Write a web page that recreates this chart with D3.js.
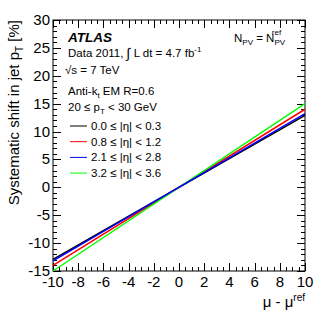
<!DOCTYPE html>
<html>
<head>
<meta charset="utf-8">
<script src="https://cdn.jsdelivr.net/npm/d3@7"></script>
<style>
  body { margin: 0; background: #fff; }
  text { font-family: "Liberation Sans", Arial, sans-serif; fill: #000; }
</style>
</head>
<body>
<div id="chart"></div>
<script>
// data
const xRange = [-10, 10]
const etaBins = ["0.0 ≤ |η| < 0.3", "0.8 ≤ |η| < 1.2", "2.1 ≤ |η| < 2.8", "3.2 ≤ |η| < 3.6"]
const colors = ["#000000", "#ff0000", "#0000ff", "#00ff00"]
const lowEnd = [-12.9, -14.0, -13.2, -15.0]
const highEnd = [12.9, 14.0, 13.2, 15.0]
const xTicks = [-10, -8, -6, -4, -2, 0, 2, 4, 6, 8, 10]
const yTicks = [-15, -10, -5, 0, 5, 10, 15, 20, 25, 30]

const width = 332
const height = 319
const padL = 53, padR = 305, padT = 20, padB = 271

const svg = d3.select("#chart").append("svg")
  .attr("width", width)
  .attr("height", height)

const x = d3.scaleLinear().domain(xRange).range([padL, padR])
const y = d3.scaleLinear().domain([-15, 30]).range([padB, padT])

// frame
svg.append("rect")
  .attr("x", padL).attr("y", padT)
  .attr("width", padR - padL).attr("height", padB - padT)
  .attr("fill", "none").attr("stroke", "#000").attr("stroke-width", 1)

// ticks (ROOT style, inside, mirrored)
const ticks = svg.append("g").attr("stroke", "#000").attr("stroke-width", 1)
d3.range(-10, 10.01, 0.5).forEach(function(v) {
  const major = Math.abs(v % 2) < 1e-6
  const len = major ? 8 : 4
  const px = Math.round(x(v)) + 0.5
  ticks.append("line").attr("x1", px).attr("x2", px).attr("y1", padB).attr("y2", padB - len)
  ticks.append("line").attr("x1", px).attr("x2", px).attr("y1", padT).attr("y2", padT + len)
})
d3.range(-15, 30.01, 1).forEach(function(v) {
  const major = v % 5 === 0
  const len = major ? 8 : 4
  const py = Math.round(y(v)) + 0.5
  ticks.append("line").attr("x1", padL).attr("x2", padL + len).attr("y1", py).attr("y2", py)
  ticks.append("line").attr("x1", padR).attr("x2", padR - len).attr("y1", py).attr("y2", py)
})

// tick labels
svg.append("g").selectAll("text").data(xTicks).enter().append("text")
  .attr("x", d => x(d))
  .attr("y", 287)
  .attr("text-anchor", "middle")
  .attr("font-size", 15)
  .text(d => d)
svg.append("g").selectAll("text").data(yTicks).enter().append("text")
  .attr("x", 50)
  .attr("y", d => y(d) + 5)
  .attr("text-anchor", "end")
  .attr("font-size", 15)
  .text(d => d)

// axis titles
const yt = svg.append("text")
  .attr("transform", "translate(19," + padT + ")rotate(-90)")
  .attr("text-anchor", "end")
  .attr("font-size", 15)
yt.append("tspan").text("Systematic shift in jet p")
yt.append("tspan").attr("font-size", 10).attr("dy", 4).text("T")
yt.append("tspan").attr("dy", -4).text(" [%]")

const xt = svg.append("text")
  .attr("x", padR)
  .attr("y", 307)
  .attr("text-anchor", "end")
  .attr("font-size", 15)
xt.append("tspan").text("μ - μ")
xt.append("tspan").attr("font-size", 10).attr("dy", -6).text("ref")

// lines
svg.append("g").selectAll("line").data([0, 1, 3, 2]).enter().append("line")
  .attr("x1", x(xRange[0]))
  .attr("x2", x(xRange[1]))
  .attr("y1", i => y(lowEnd[i]))
  .attr("y2", i => y(highEnd[i]))
  .attr("stroke", i => colors[i])
  .attr("stroke-width", 1.5)

// annotations
svg.append("text").attr("x", 68).attr("y", 42)
  .attr("font-size", 13.5).attr("font-weight", "bold").attr("font-style", "italic")
  .text("ATLAS")

const d1 = svg.append("text").attr("x", 68).attr("y", 57).attr("font-size", 11.5)
d1.append("tspan").text("Data 2011, ")
d1.append("tspan").attr("font-size", 14).attr("dy", 1).text("∫")
d1.append("tspan").attr("dy", -1).text(" L dt = 4.7 fb")
d1.append("tspan").attr("font-size", 8).attr("dy", -5).text("-1")

svg.append("text").attr("x", 65).attr("y", 74).attr("font-size", 11.5)
  .text("√s = 7 TeV")

const a1 = svg.append("text").attr("x", 68).attr("y", 95).attr("font-size", 11.5)
a1.append("tspan").text("Anti-k")
a1.append("tspan").attr("font-size", 8).attr("dy", 3).text("t")
a1.append("tspan").attr("dy", -3).text(" EM R=0.6")

const p1 = svg.append("text").attr("x", 68).attr("y", 111).attr("font-size", 11.5)
p1.append("tspan").text("20 ≤ p")
p1.append("tspan").attr("font-size", 8).attr("dy", 3).text("T")
p1.append("tspan").attr("dy", -3).text(" < 30 GeV")

const n1 = svg.append("text").attr("x", 234).attr("y", 42).attr("font-size", 11.5)
n1.append("tspan").text("N")
n1.append("tspan").attr("font-size", 8).attr("dy", 3).text("PV")
n1.append("tspan").attr("dy", -3).text(" = N")
n1.append("tspan").attr("font-size", 8).attr("dy", 3).text("PV")
n1.append("tspan").attr("font-size", 8).attr("dx", -13).attr("dy", -10).text("ref")

// legend
const leg = svg.append("g").selectAll("g").data(etaBins).enter().append("g")
  .attr("transform", (d, i) => "translate(0," + (126 + i * 15.7) + ")")
leg.append("line")
  .attr("x1", 70).attr("x2", 87).attr("y1", 0).attr("y2", 0)
  .attr("stroke", (d, i) => colors[i]).attr("stroke-width", 1)
leg.append("text")
  .attr("x", 91).attr("y", 4)
  .attr("font-size", 11.5)
  .text(d => d)
</script>
</body>
</html>
